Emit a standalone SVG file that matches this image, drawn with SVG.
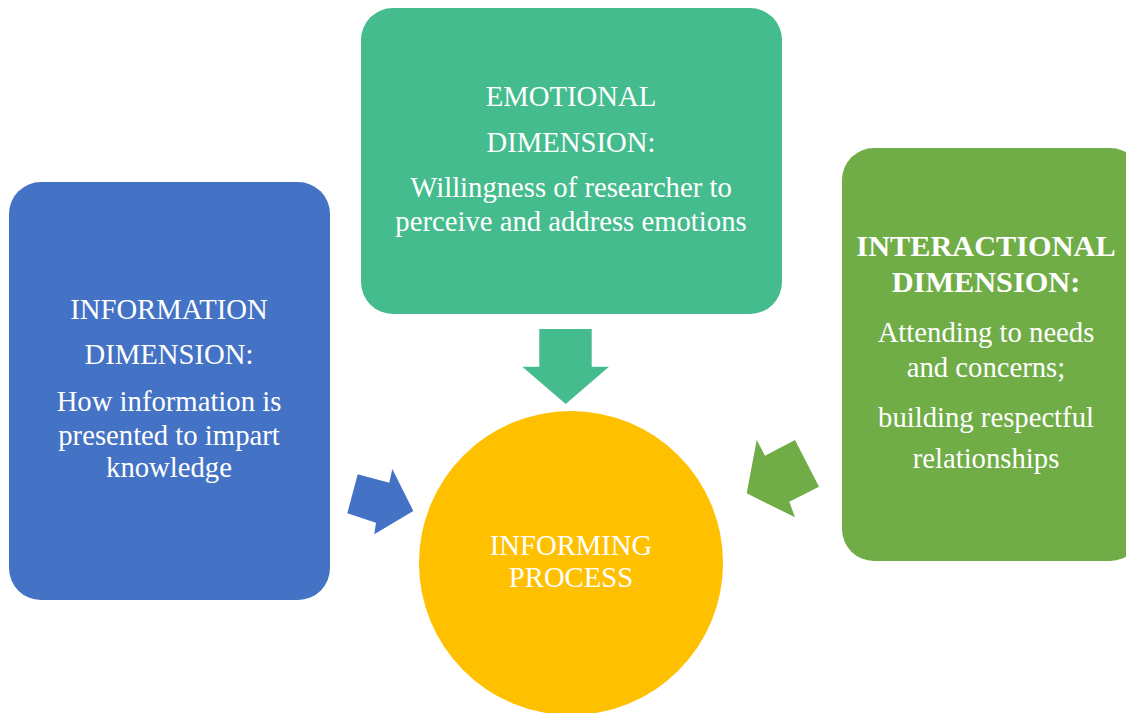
<svg xmlns="http://www.w3.org/2000/svg" width="1126" height="713" viewBox="0 0 1126 713">
<style>
text{font-family:"Liberation Serif","DejaVu Serif",serif;fill:#ffffff;text-anchor:middle;font-size:28.7px}
.b{font-weight:bold;font-size:30.3px}
</style>
<rect width="1126" height="713" fill="#ffffff"/>
<g id="connectors">
<polygon points="357.7,474.3 389.3,482.7 392.3,469 413.3,511 374.3,534.3 376,522.7 347.3,513.3" fill="#4472C4"/>
<polygon points="539.3,329 591.7,329 591.7,366.7 609,366.7 565.7,404 522.3,366.7 539.3,366.7" fill="#45BC8D"/>
<polygon points="756.7,440 765,455.7 795,440 819,486.7 789.3,501.7 795,517.3 746.7,493.3" fill="#70AD47"/>
</g>
<g id="info">
<rect x="9" y="182" width="321" height="418" rx="32" fill="#4472C4"/>
<text x="169" y="319">INFORMATION</text>
<text x="169" y="364">DIMENSION:</text>
<text x="169" y="411">How information is</text>
<text x="169" y="445">presented to impart</text>
<text x="169" y="477">knowledge</text>
</g>
<g id="emotional">
<rect x="361" y="8" width="421" height="306" rx="32" fill="#45BC8D"/>
<text x="571" y="106">EMOTIONAL</text>
<text x="571" y="152">DIMENSION:</text>
<text x="571" y="197">Willingness of researcher to</text>
<text x="571" y="231">perceive and address emotions</text>
</g>
<g id="interactional">
<rect x="842" y="148" width="300" height="413" rx="32" fill="#70AD47"/>
<text class="b" x="986" y="256">INTERACTIONAL</text>
<text class="b" x="986" y="292">DIMENSION:</text>
<text x="986" y="342">Attending to needs</text>
<text x="986" y="377">and concerns;</text>
<text x="986" y="427">building respectful</text>
<text x="986" y="468">relationships</text>
</g>
<g id="process">
<circle cx="571" cy="563" r="152" fill="#FFC000"/>
<text x="571" y="555">INFORMING</text>
<text x="571" y="587">PROCESS</text>
</g>
</svg>
